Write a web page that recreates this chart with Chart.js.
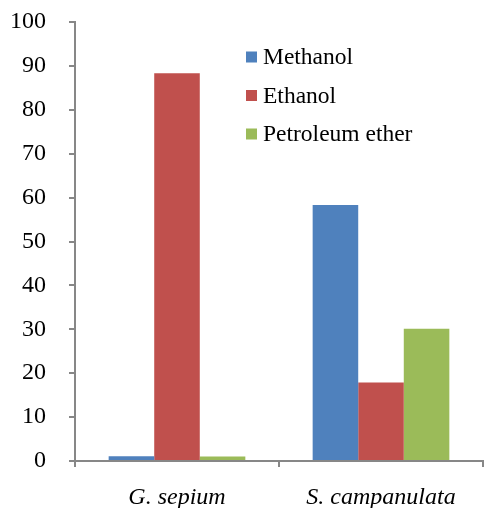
<!DOCTYPE html>
<html>
<head>
<meta charset="utf-8">
<script src="https://cdn.jsdelivr.net/npm/chart.js@4.4.0/dist/chart.umd.min.js"></script>
<style>
  html, body { margin: 0; padding: 0; background: #fff; }
  #wrap { position: relative; width: 485px; height: 508px; }
</style>
</head>
<body>
<div id="wrap"><canvas id="chart"></canvas></div>
<script>
const categories = ["G. sepium", "S. campanulata"];
const seriesNames = ["Methanol", "Ethanol", "Petroleum ether"];
const methanol = [1.1, 58.3];
const ethanol = [88.3, 17.9];
const petroleumEther = [1.0, 30.1];
const colors = ["#4F81BD", "#C0504D", "#9BBB59"];

const AXIS = "#878787";
const FONT = "'Liberation Serif', 'Times New Roman', serif";

// legend sits inside the plot, top right, so draw it by hand
const insideLegend = {
  id: "insideLegend",
  afterDraw(chart) {
    const ctx = chart.ctx;
    ctx.save();
    ctx.font = "23.5px " + FONT;
    ctx.textBaseline = "middle";
    chart.data.datasets.forEach((ds, i) => {
      const y = 57 + i * 38.5;
      ctx.fillStyle = ds.backgroundColor;
      ctx.fillRect(246, y - 5.5, 11, 11);
      ctx.fillStyle = "#000";
      ctx.fillText(ds.label, 263, y + 1);
    });
    ctx.restore();
  },
};

new Chart(document.getElementById("chart"), {
  type: "bar",
  data: {
    labels: categories,
    datasets: [
      { label: seriesNames[0], data: methanol, backgroundColor: colors[0] },
      { label: seriesNames[1], data: ethanol, backgroundColor: colors[1] },
      { label: seriesNames[2], data: petroleumEther, backgroundColor: colors[2] },
    ],
  },
  options: {
    responsive: true,
    maintainAspectRatio: false,
    animation: false,
    layout: { padding: { top: 22, right: 2, left: 0, bottom: 0 } },
    datasets: {
      bar: { barPercentage: 1.0, categoryPercentage: 0.67, borderWidth: 0 },
    },
    scales: {
      y: {
        min: 0,
        max: 100,
        ticks: {
          stepSize: 10,
          color: "#000",
          padding: 23,
          font: { family: FONT, size: 24 },
        },
        grid: { drawOnChartArea: false, drawTicks: true, tickLength: 6, color: AXIS, lineWidth: 2 },
        border: { display: true, color: AXIS, width: 2 },
        afterFit: (scale) => {
          scale.width = 75;
          // tick padding would otherwise push the plot down
          scale.paddingTop = 0;
          scale.paddingBottom = 0;
        },
      },
      x: {
        ticks: {
          color: "#000",
          padding: 16,
          font: { family: FONT, size: 24, style: "italic" },
        },
        grid: { drawOnChartArea: false, drawTicks: true, tickLength: 6, color: AXIS, lineWidth: 2, offset: true },
        border: { display: true, color: AXIS, width: 2 },
        afterFit: (scale) => { scale.height = 47; },
      },
    },
    plugins: {
      legend: { display: false },
      tooltip: { enabled: false },
    },
  },
  plugins: [insideLegend],
});
</script>
</body>
</html>
